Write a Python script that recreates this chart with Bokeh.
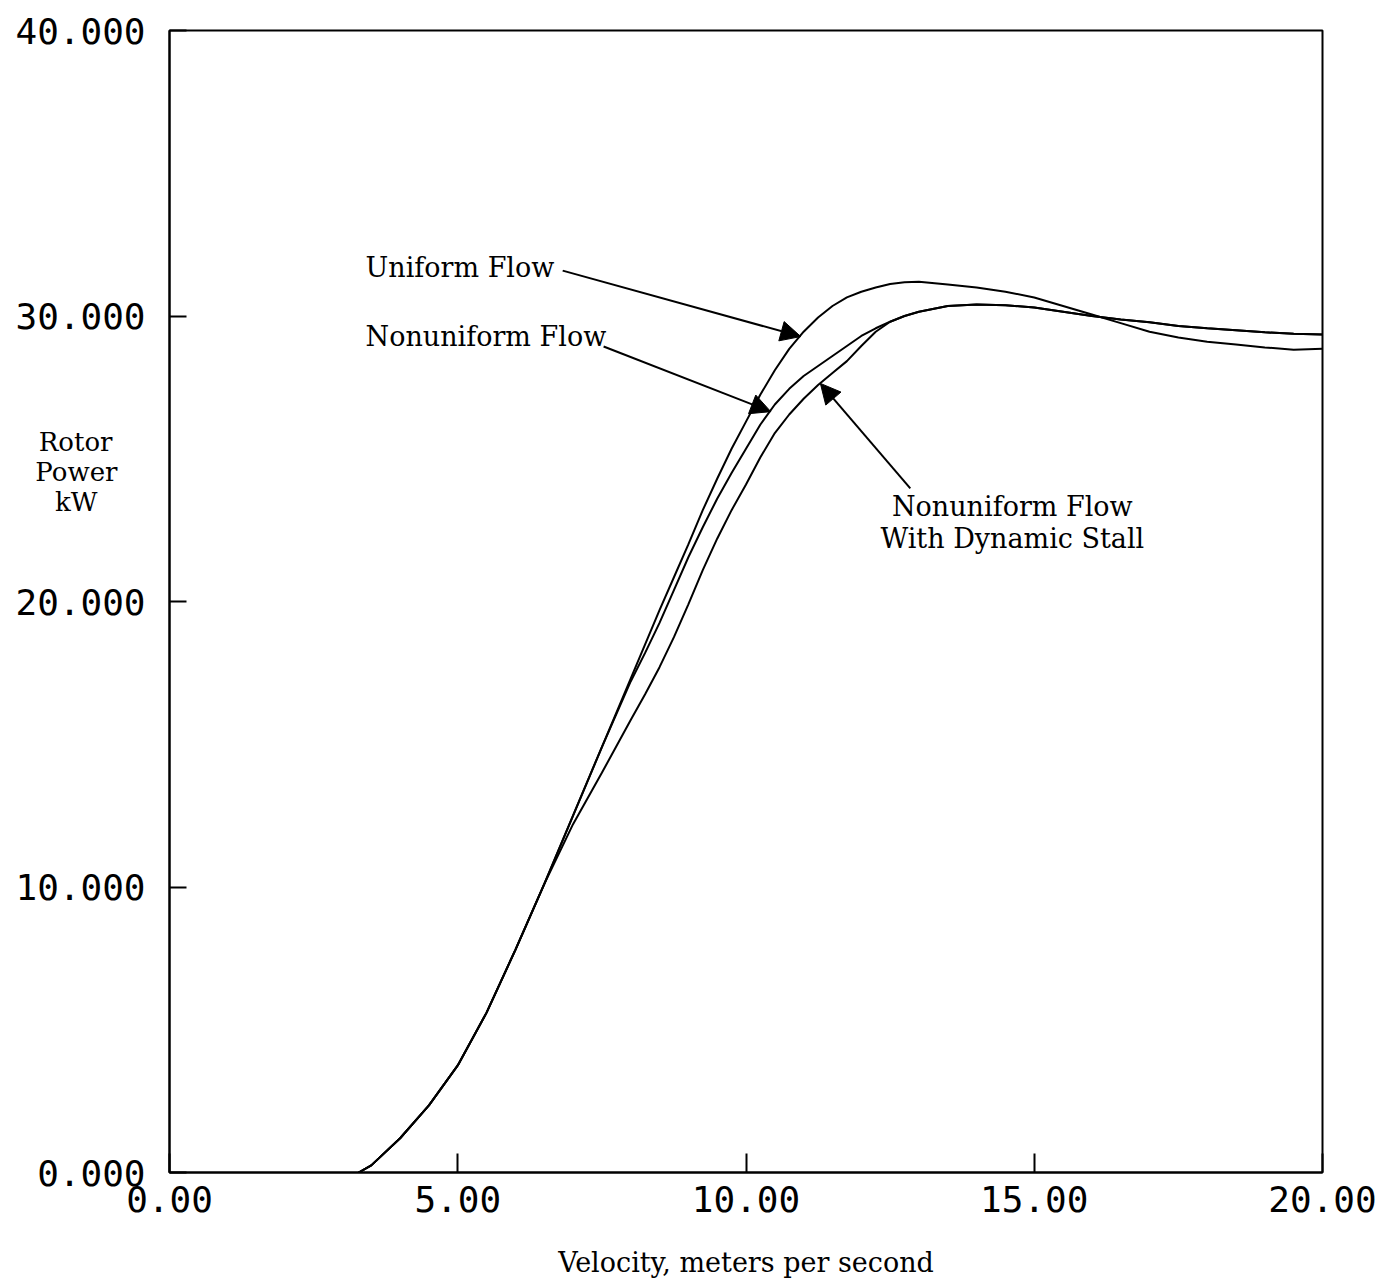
from bokeh.plotting import figure
from bokeh.models import Label, Arrow, NormalHead, FixedTicker, Range1d, LinearAxis
from bokeh.embed import file_html
from bokeh.resources import INLINE

# ---- data ----
velocity = [3.28, 3.5, 4.0, 4.5, 5.0, 5.5, 6.0, 6.5, 7.0, 7.5, 8.0, 8.25, 8.5, 8.75,
            9.0, 9.25, 9.5, 9.75, 10.0, 10.25, 10.5, 10.75, 11.0, 11.25, 11.5, 11.75,
            12.0, 12.25, 12.5, 12.75, 13.0, 13.5, 14.0, 14.5, 15.0, 15.5, 16.0,
            16.5, 17.0, 17.5, 18.0, 18.5, 19.0, 19.5, 20.0]

uniform_p = [0.0, 0.25, 1.2, 2.35, 3.75, 5.6, 7.8, 10.1, 12.5, 14.9, 17.3, 18.5, 19.7, 20.85,
             22.0, 23.2, 24.3, 25.35, 26.3, 27.25, 28.1, 28.85, 29.45, 29.95, 30.35, 30.65,
             30.85, 31.0, 31.12, 31.18, 31.2, 31.1, 31.0, 30.85, 30.65, 30.35, 30.05,
             29.75, 29.45, 29.25, 29.1, 29.0, 28.9, 28.82, 28.85]

nonuniform_p = [0.0, 0.25, 1.2, 2.35, 3.75, 5.6, 7.8, 10.1, 12.5, 14.9, 17.2, 18.2, 19.25, 20.4,
                21.55, 22.6, 23.6, 24.5, 25.35, 26.2, 26.9, 27.45, 27.9, 28.25, 28.6, 28.95,
                29.3, 29.57, 29.8, 30.0, 30.15, 30.35, 30.4, 30.38, 30.3, 30.15, 30.0,
                29.88, 29.78, 29.65, 29.57, 29.5, 29.43, 29.38, 29.35]

stall_p = [0.0, 0.25, 1.2, 2.35, 3.75, 5.6, 7.8, 10.1, 12.2, 14.0, 15.85, 16.75, 17.7, 18.75,
           19.9, 21.1, 22.2, 23.2, 24.1, 25.05, 25.9, 26.55, 27.1, 27.58, 28.0, 28.42,
           28.95, 29.45, 29.8, 30.0, 30.15, 30.35, 30.4, 30.38, 30.3, 30.15, 30.0,
           29.88, 29.78, 29.65, 29.57, 29.5, 29.43, 29.38, 29.35]

x_ticks = [0, 5, 10, 15, 20]
x_tick_labels = ["0.00", "5.00", "10.00", "15.00", "20.00"]
y_ticks = [0, 10, 20, 30, 40]
y_tick_labels = ["0.000", "10.000", "20.000", "30.000", "40.000"]

x_title = "Velocity, meters per second"
y_title_lines = ["Rotor", "Power", "kW"]
y_title_at = [25.6, 24.55, 23.5]        # kW level of each title line

# annotation texts, anchors and arrows (data units)
note_texts = ["Uniform Flow", "Nonuniform Flow", "Nonuniform Flow", "With Dynamic Stall"]
note_x = [3.40, 3.40, 14.62, 14.62]
note_y = [31.70, 29.28, 23.33, 22.22]
note_align = ["left", "left", "center", "center"]

arrow_x0 = [6.82, 7.53, 12.85]
arrow_y0 = [31.59, 28.93, 23.96]
arrow_x1 = [10.95, 10.43, 11.29]
arrow_y1 = [29.28, 26.65, 27.64]

SERIF = "DejaVu Serif"
MONO = "DejaVu Sans Mono"

p = figure(width=1390, height=1286, x_range=Range1d(0, 20), y_range=Range1d(0, 40),
           output_backend="svg", toolbar_location=None,
           min_border_left=169, min_border_right=68, min_border_top=30, min_border_bottom=114)
p.background_fill_color = "white"
p.border_fill_color = "white"
p.grid.visible = False
p.outline_line_color = "black"
p.outline_line_width = 2
p.outline_line_alpha = 1.0

p.line(velocity, uniform_p, line_color="black", line_width=2)
p.line(velocity, nonuniform_p, line_color="black", line_width=2)
p.line(velocity, stall_p, line_color="black", line_width=2)

p.xaxis.ticker = FixedTicker(ticks=x_ticks)
p.xaxis.major_label_overrides = dict(zip(x_ticks, x_tick_labels))
p.yaxis.ticker = FixedTicker(ticks=y_ticks)
p.yaxis.major_label_overrides = dict(zip(y_ticks, y_tick_labels))

for ax in (p.xaxis[0], p.yaxis[0]):
    ax.axis_line_color = "black"
    ax.axis_line_width = 2
    ax.major_tick_line_color = "black"
    ax.major_tick_line_width = 2
    ax.minor_tick_line_color = None
    ax.major_tick_out = 0
    ax.major_label_text_font = MONO
    ax.major_label_text_font_size = "36px"
    ax.major_label_text_color = "black"
p.xaxis.major_tick_in = 19
p.xaxis.major_label_standoff = 13
p.yaxis.major_tick_in = 17
p.yaxis.major_label_standoff = 24

p.xaxis.axis_label = x_title
p.xaxis.axis_label_text_font = SERIF
p.xaxis.axis_label_text_font_size = "27px"
p.xaxis.axis_label_text_font_style = "normal"
p.xaxis.axis_label_text_color = "black"
p.xaxis.axis_label_standoff = 32

# y title: one bare left axis per line, each with a single labelled tick
title_standoffs = [-100, -105, -85]
for t, lvl, so in zip(y_title_lines, y_title_at, title_standoffs):
    ax = LinearAxis(ticker=FixedTicker(ticks=[lvl]), major_label_overrides={lvl: t},
                    axis_line_color=None, major_tick_line_color=None,
                    minor_tick_line_color=None, major_tick_out=0, major_tick_in=0,
                    major_label_standoff=so, major_label_text_font=SERIF,
                    major_label_text_font_size="26px", major_label_text_color="black")
    p.add_layout(ax, "left")

for t, xx, yy, al in zip(note_texts, note_x, note_y, note_align):
    p.add_layout(Label(x=xx, y=yy, text=t, text_font=SERIF, text_font_size="27px",
                       text_align=al, text_baseline="middle", text_color="black"))

for a, b, c, d in zip(arrow_x0, arrow_y0, arrow_x1, arrow_y1):
    p.add_layout(Arrow(end=NormalHead(size=20, fill_color="black", line_color="black", line_width=1),
                       x_start=a, y_start=b, x_end=c, y_end=d,
                       line_color="black", line_width=2))

open("out.html", "w").write(file_html(p, INLINE))
